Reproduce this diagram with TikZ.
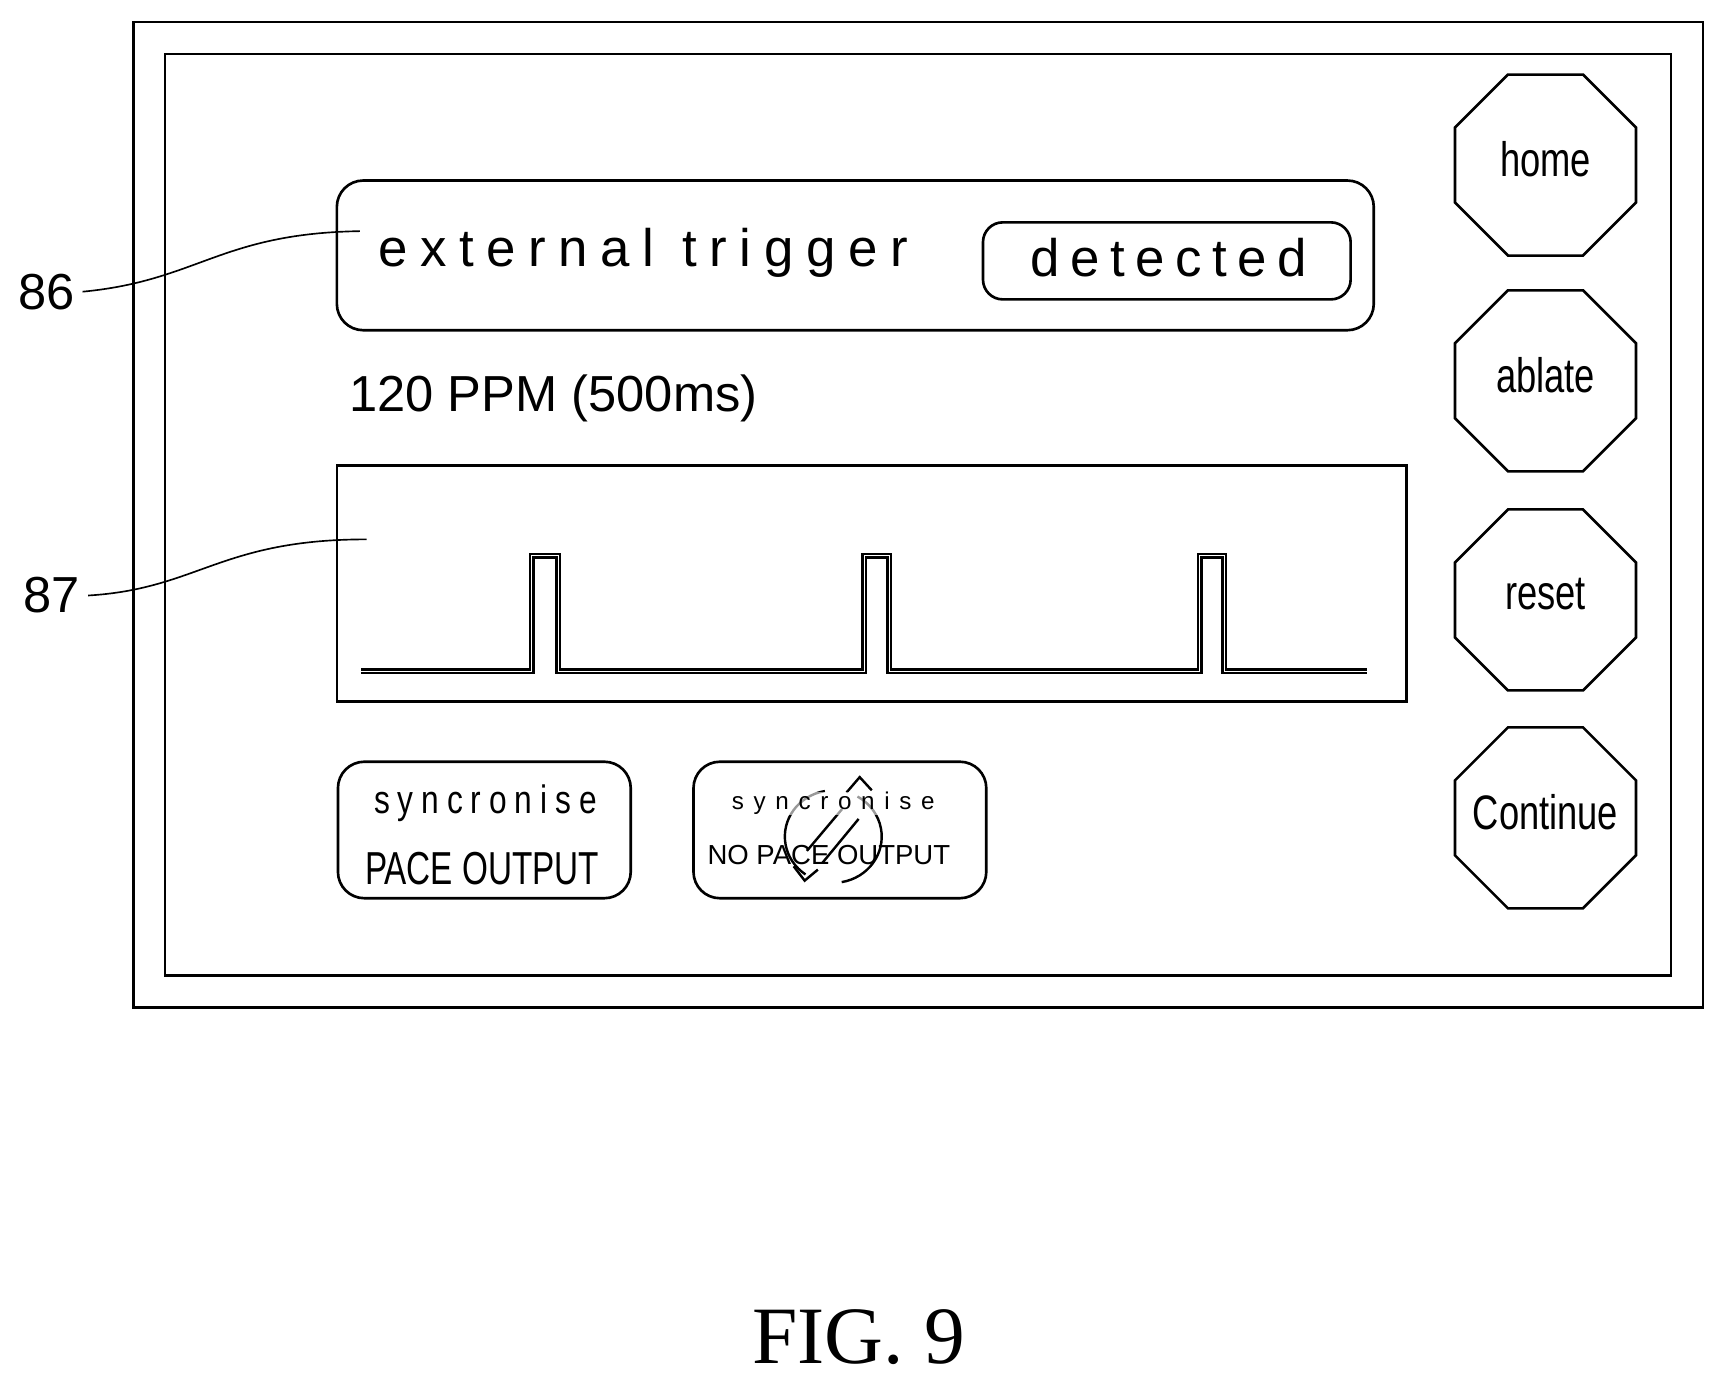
\documentclass[tikz,border=0pt]{standalone}
\usepackage{fontspec}
\setmainfont{Liberation Serif}
\setsansfont{Liberation Sans}
\usetikzlibrary{shapes.geometric}
\tikzset{every picture/.style={line width=0.75pt}}
\tikzset{
  panel/.style={draw, rounded corners=12pt, line width=1.2pt},
  octtext/.style={font=\sffamily\fontsize{22}{24}\selectfont, xscale=0.75},
  spaced/.style={font=\sffamily\addfontfeature{LetterSpace=#1}\fontsize{24}{26}\selectfont}
}
\begin{document}
\begin{tikzpicture}[x=0.5pt,y=0.5pt,yscale=-1,xscale=1]
  \useasboundingbox (0,0) rectangle (1568,1261);
  % frames
  \draw [line width=1.2pt] (121,20) rectangle (1547,915);
  \draw [line width=1.2pt] (150,49) rectangle (1518,886);
  % trigger panel
  \node [panel, minimum width=471pt, minimum height=68pt] (trig) at (777,232) {};
  \node [spaced=24, anchor=west] (ext) at (336,230) {external trigger};
  \node [panel, rounded corners=9pt, minimum width=167pt, minimum height=35pt] (det) at (1060,237) {};
  \node [spaced=20] (dettext) at (1062,234) {detected};
  % rate
  \node [font=\sffamily\fontsize{23}{25}\selectfont, anchor=west] (rate) at (310,362) {120 PPM (500ms)};
  % waveform
  \node [draw, line width=1.2pt, minimum width=486pt, minimum height=107pt] (wave) at (792,530) {};
  \draw [double, double distance=0.5pt, line width=1.1pt] (328,610) -- (483,610) -- (483,505) -- (507,505) -- (507,610)
    -- (785,610) -- (785,505) -- (808,505) -- (808,610)
    -- (1090,610) -- (1090,505) -- (1112,505) -- (1112,610) -- (1242,610);
  % sync buttons
  \node [panel, minimum width=133pt, minimum height=62pt] (sync) at (440,754) {};
  \node [font=\sffamily\addfontfeature{LetterSpace=25}\fontsize{18}{20}\selectfont, xscale=0.8] (synctext) at (441,730) {syncronise};
  \node [font=\sffamily\fontsize{21}{23}\selectfont, xscale=0.72] (pacetext) at (438,789) {PACE OUTPUT};
  \node [panel, minimum width=133pt, minimum height=62pt] (nosync) at (763,754) {};
  \draw [line width=1.1pt] (757,760) ++(-100:44 and 42) arc [start angle=-100, end angle=-235, x radius=44, y radius=42];
  \draw [line width=1.1pt] (757,760) ++(-280:44 and 42) arc [start angle=-280, end angle=-420, x radius=44, y radius=42];
  \draw [line width=1.1pt] (733,773) -- (765,735) (747,784) -- (780,744);
  \draw [line width=1.1pt] (769,720) -- (781,706) -- (792,718) (721,787) -- (731,800) -- (743,790);
  \node [fill=white, fill opacity=0.6, text opacity=1, inner sep=0pt, font=\sffamily\addfontfeature{LetterSpace=40}\fontsize{11}{13}\selectfont] (nosynctext) at (757,730) {syncronise};
  \node [font=\sffamily\fontsize{12.5}{14}\selectfont] (nopacetext) at (753,777) {NO PACE OUTPUT};
  % side buttons
  \foreach \name/\lab/\y in {home/home/150, ablate/ablate/346, reset/reset/545, cont/Continue/743} {
    \draw [line width=1.2pt, shift={(1404,\y)}] (22.5:89) -- (67.5:89) -- (112.5:89) -- (157.5:89) -- (202.5:89) -- (247.5:89) -- (292.5:89) -- (337.5:89) -- cycle;
    \node [octtext] (\name) at (1404,\y-5) {\lab};
  }
  % callouts
  \node [font=\sffamily\fontsize{23}{25}\selectfont] (l86) at (42,265) {86};
  \node [font=\sffamily\fontsize{23}{25}\selectfont] (l87) at (47,541) {87};
  \draw (l86.east) .. controls (180,255) and (200,212) .. (327,210);
  \draw (l87.east) .. controls (180,535) and (200,490) .. (333,490);
  % caption
  \node [font=\fontsize{37}{40}\selectfont] (fig) at (780,1215) {FIG. 9};
\end{tikzpicture}
\end{document}
